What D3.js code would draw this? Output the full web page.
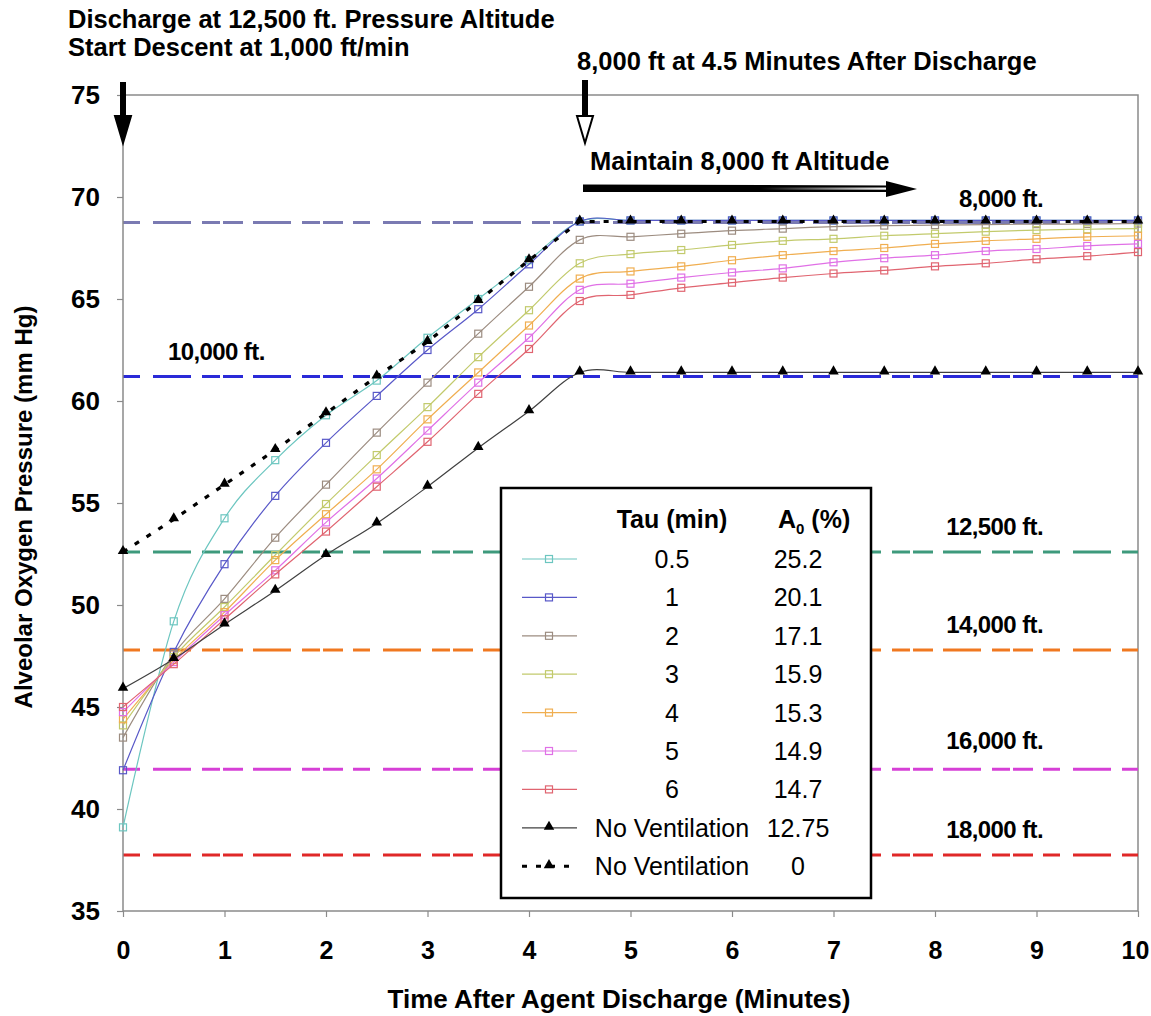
<!DOCTYPE html>
<html>
<head>
<meta charset="utf-8">
<script src="https://cdn.jsdelivr.net/npm/d3@7"></script>
<style>
  body { margin: 0; background: #fff; }
  text { font-family: "Liberation Sans", Arial, Helvetica, sans-serif; }
</style>
</head>
<body>
<svg id="chart" width="1151" height="1016"></svg>
<script>
// ---- data -------------------------------------------------------------
const time = [0, 0.5, 1, 1.5, 2, 2.5, 3, 3.5, 4, 4.5, 5, 5.5, 6, 6.5, 7, 7.5, 8, 8.5, 9, 9.5, 10];

const tau05 = [39.1, 49.2, 54.25, 57.1, 59.3, 61.0, 63.1, 65.0, 66.9, 68.8, 68.85, 68.85, 68.85, 68.85, 68.85, 68.85, 68.85, 68.85, 68.85, 68.85, 68.85];
const tau1  = [41.9, 47.7, 52.0, 55.35, 57.95, 60.25, 62.5, 64.5, 66.7, 68.8, 68.85, 68.85, 68.85, 68.85, 68.85, 68.85, 68.85, 68.85, 68.85, 68.85, 68.85];
const tau2  = [43.5, 47.6, 50.3, 53.3, 55.9, 58.45, 60.9, 63.3, 65.6, 67.9, 68.05, 68.2, 68.35, 68.45, 68.55, 68.6, 68.62, 68.65, 68.67, 68.68, 68.7];
const tau3  = [44.1, 47.45, 49.9, 52.45, 54.95, 57.35, 59.7, 62.15, 64.45, 66.75, 67.2, 67.4, 67.65, 67.85, 67.95, 68.1, 68.2, 68.3, 68.38, 68.42, 68.45];
const tau4  = [44.4, 47.3, 49.65, 52.2, 54.45, 56.65, 59.1, 61.4, 63.7, 66.0, 66.35, 66.6, 66.9, 67.15, 67.35, 67.5, 67.7, 67.85, 67.95, 68.05, 68.1];
const tau5  = [44.75, 47.2, 49.5, 51.7, 54.05, 56.2, 58.55, 60.9, 63.1, 65.45, 65.75, 66.05, 66.3, 66.5, 66.8, 67.0, 67.15, 67.35, 67.45, 67.6, 67.7];
const tau6  = [45.0, 47.1, 49.3, 51.5, 53.6, 55.8, 58.0, 60.35, 62.55, 64.9, 65.2, 65.55, 65.8, 66.05, 66.25, 66.4, 66.6, 66.75, 66.95, 67.1, 67.3];
const noVent1275 = [45.9, 47.35, 49.05, 50.7, 52.45, 54.0, 55.8, 57.7, 59.5, 61.4, 61.4, 61.4, 61.4, 61.4, 61.4, 61.4, 61.4, 61.4, 61.4, 61.4, 61.4];
const noVent0    = [52.6, 54.2, 55.9, 57.6, 59.4, 61.2, 62.9, 64.9, 66.9, 68.8, 68.8, 68.8, 68.8, 68.8, 68.8, 68.8, 68.8, 68.8, 68.8, 68.8, 68.8];

const tauLabels = ["0.5", "1", "2", "3", "4", "5", "6", "No Ventilation", "No Ventilation"];
const a0Labels  = ["25.2", "20.1", "17.1", "15.9", "15.3", "14.9", "14.7", "12.75", "0"];

const altitudeLabels   = ["8,000 ft.", "10,000 ft.", "12,500 ft.", "14,000 ft.", "16,000 ft.", "18,000 ft."];
const altitudePressure = [68.75, 61.2, 52.6, 47.8, 41.95, 37.75];

const xTicks = [0, 1, 2, 3, 4, 5, 6, 7, 8, 9, 10];
const yTicks = [35, 40, 45, 50, 55, 60, 65, 70, 75];

// ---- styling ----------------------------------------------------------
const seriesValues = [tau05, tau1, tau2, tau3, tau4, tau5, tau6, noVent1275, noVent0];
const seriesStyle = [
  { color: "#6cc6c0", marker: "square" },
  { color: "#5858c8", marker: "square" },
  { color: "#9c8c80", marker: "square" },
  { color: "#c2ca6c", marker: "square" },
  { color: "#f0ae50", marker: "square" },
  { color: "#e070e6", marker: "square" },
  { color: "#e06470", marker: "square" },
  { color: "#404040", marker: "triangle" },
  { color: "#000000", marker: "triangle", dotted: true }
];
const altitudeColors = ["#7a7ab2", "#2a2ad8", "#3e9a7c", "#f07820", "#d640d6", "#e02828"];
const altitudeLabelPos = [
  { x: 1043, anchor: "end", dy: -16 },
  { x: 168, anchor: "start", dy: -17 },
  { x: 1043, anchor: "end", dy: -17 },
  { x: 1043, anchor: "end", dy: -17 },
  { x: 1043, anchor: "end", dy: -20 },
  { x: 1043, anchor: "end", dy: -17 }
];

// ---- scales -----------------------------------------------------------
const svg = d3.select("#chart");
const x = d3.scaleLinear().domain([0, 10]).range([123, 1138]);
const y = d3.scaleLinear().domain([35, 75]).range([911, 95]);
const axisGray = "#8a8a8a";

// plot frame (top and right edges)
svg.append("path")
  .attr("d", `M${x(0)},${y(75)}H${x(10)}V${y(35)}`)
  .attr("fill", "none").attr("stroke", axisGray).attr("stroke-width", 1.5);

// altitude reference lines
altitudePressure.forEach((p, i) => {
  svg.append("line")
    .attr("x1", x(0)).attr("x2", x(10))
    .attr("y1", y(p)).attr("y2", y(p))
    .attr("stroke", altitudeColors[i]).attr("stroke-width", 3)
    .attr("stroke-dasharray", "17,13,38,11,18,3,20,10,38,11,18,3,20,10");
  const pos = altitudeLabelPos[i];
  svg.append("text")
    .attr("x", pos.x).attr("y", y(p) + pos.dy)
    .attr("text-anchor", pos.anchor)
    .attr("font-size", 24).attr("font-weight", "bold")
    .attr("letter-spacing", -0.6)
    .text(altitudeLabels[i]);
});

// axes
const yAxis = svg.append("g")
  .attr("transform", `translate(${x(0)},0)`)
  .call(d3.axisLeft(y).tickValues(yTicks).tickSize(6).tickPadding(17).tickFormat(d3.format("d")));
const xAxis = svg.append("g")
  .attr("transform", `translate(0,${y(35)})`)
  .call(d3.axisBottom(x).tickValues(xTicks).tickSize(6).tickPadding(24).tickFormat(d3.format("d")));
[yAxis, xAxis].forEach(g => {
  g.select(".domain").attr("stroke", axisGray).attr("stroke-width", 1.5);
  g.selectAll(".tick line").attr("stroke", axisGray).attr("stroke-width", 1.2);
  g.selectAll(".tick text")
    .attr("fill", "#000").attr("font-size", 26).attr("font-weight", "bold")
    .attr("font-family", '"Liberation Sans", Arial, sans-serif');
});
xAxis.selectAll(".tick text").attr("font-size", 25);
// keep the last x label inside the page
xAxis.selectAll(".tick text").filter(d => d === 10).attr("dx", -3);
xAxis.select(".domain").attr("d", `M${x(0)},0H${x(10)}`);
yAxis.select(".domain").attr("d", `M0,${y(35)}V${y(75)}`);

// axis titles
svg.append("text")
  .attr("transform", `translate(32,${(y(35) + y(75)) / 2 + 4}) rotate(-90)`)
  .attr("text-anchor", "middle").attr("font-size", 24).attr("font-weight", "bold")
  .text("Alveolar Oxygen Pressure (mm Hg)");
svg.append("text")
  .attr("x", 619).attr("y", 1008)
  .attr("text-anchor", "middle").attr("font-size", 26).attr("font-weight", "bold")
  .text("Time After Agent Discharge (Minutes)");

// ---- series -----------------------------------------------------------
const smoothLine = d3.line()
  .x(d => x(d[0])).y(d => y(d[1]))
  .curve(d3.curveCardinal.tension(0));
const straightLine = d3.line()
  .x(d => x(d[0])).y(d => y(d[1]));

const triangle = d3.symbol().type(d3.symbolTriangle).size(48);

function drawMarker(g, style, cx, cy) {
  if (style.marker === "square") {
    g.append("rect")
      .attr("x", cx - 3.5).attr("y", cy - 3.5).attr("width", 7).attr("height", 7)
      .attr("fill", "none").attr("stroke", style.color).attr("stroke-width", 1.2);
  } else {
    g.append("path")
      .attr("d", triangle())
      .attr("transform", `translate(${cx},${cy - 1})`)
      .attr("fill", "#000");
  }
}

seriesValues.forEach((vals, i) => {
  const style = seriesStyle[i];
  const pts = time.map((t, k) => [t, vals[k]]);
  const g = svg.append("g");
  g.append("path")
    .attr("d", style.dotted ? straightLine(pts) : smoothLine(pts))
    .attr("fill", "none")
    .attr("stroke", style.color)
    .attr("stroke-width", style.dotted ? 3.2 : 1.2)
    .attr("stroke-dasharray", style.dotted ? "5,9" : null);
  pts.forEach(p => drawMarker(g, style, x(p[0]), y(p[1])));
});

// ---- legend -----------------------------------------------------------
const legend = svg.append("g");
legend.append("rect")
  .attr("x", 501).attr("y", 488).attr("width", 370).attr("height", 410)
  .attr("fill", "#fff").attr("stroke", "#000").attr("stroke-width", 2.5);
legend.append("text")
  .attr("x", 672).attr("y", 528).attr("text-anchor", "middle")
  .attr("font-size", 25).attr("font-weight", "bold").text("Tau (min)");
const a0Head = legend.append("text")
  .attr("x", 778).attr("y", 528).attr("font-size", 25).attr("font-weight", "bold");
a0Head.append("tspan").text("A");
a0Head.append("tspan").attr("font-size", 15).attr("dy", 6).text("0");
a0Head.append("tspan").attr("dy", -6).text(" (%)");

tauLabels.forEach((lab, i) => {
  const style = seriesStyle[i];
  const cy = 559 + i * 38.4;
  legend.append("line")
    .attr("x1", 522).attr("x2", 577).attr("y1", cy).attr("y2", cy)
    .attr("stroke", style.color)
    .attr("stroke-width", style.dotted ? 3 : 1.2)
    .attr("stroke-dasharray", style.dotted ? "5,9" : null);
  drawMarker(legend, style, 549, cy);
  legend.append("text")
    .attr("x", 672).attr("y", cy + 9).attr("text-anchor", "middle")
    .attr("font-size", 25).text(lab);
  legend.append("text")
    .attr("x", 798).attr("y", cy + 9).attr("text-anchor", "middle")
    .attr("font-size", 25).text(a0Labels[i]);
});

// ---- annotations ------------------------------------------------------
const notes = [
  { x: 68, y: 28, text: "Discharge at 12,500 ft. Pressure Altitude" },
  { x: 68, y: 56, text: "Start Descent at 1,000 ft/min" },
  { x: 577, y: 70, text: "8,000 ft at 4.5 Minutes After Discharge" },
  { x: 590, y: 170, text: "Maintain 8,000 ft Altitude" }
];
notes.forEach(n => {
  svg.append("text").attr("x", n.x).attr("y", n.y)
    .attr("font-size", 25.5).attr("font-weight", "bold").text(n.text);
});

// downward arrows marking discharge and arrival at 8,000 ft
function downArrow(cx, top, tip, hollow) {
  svg.append("rect").attr("x", cx - 3).attr("y", top).attr("width", 6).attr("height", tip - top - 24)
    .attr("fill", "#000");
  svg.append("path")
    .attr("d", `M${cx - 8},${tip - 27}L${cx + 8},${tip - 27}L${cx},${tip}Z`)
    .attr("fill", hollow ? "#fff" : "#000")
    .attr("stroke", "#000").attr("stroke-width", 2).attr("stroke-linejoin", "miter");
}
downArrow(123, 82, 143, false);
downArrow(585, 80, 143, true);

// horizontal "maintain altitude" arrow
const grad = svg.append("defs").append("linearGradient")
  .attr("id", "shaftFade").attr("x1", "0").attr("x2", "1");
grad.append("stop").attr("offset", "0").attr("stop-color", "#fff").attr("stop-opacity", 0);
grad.append("stop").attr("offset", "1").attr("stop-color", "#fff").attr("stop-opacity", 1);
svg.append("path")
  .attr("d", "M583,184.5L890,185.5L890,192L583,192Z")
  .attr("fill", "#000");
svg.append("rect").attr("x", 760).attr("y", 187.5).attr("width", 128).attr("height", 2.2)
  .attr("fill", "url(#shaftFade)");
svg.append("path")
  .attr("d", "M886,181L917,189L886,197Z")
  .attr("fill", "#000");
</script>
</body>
</html>
